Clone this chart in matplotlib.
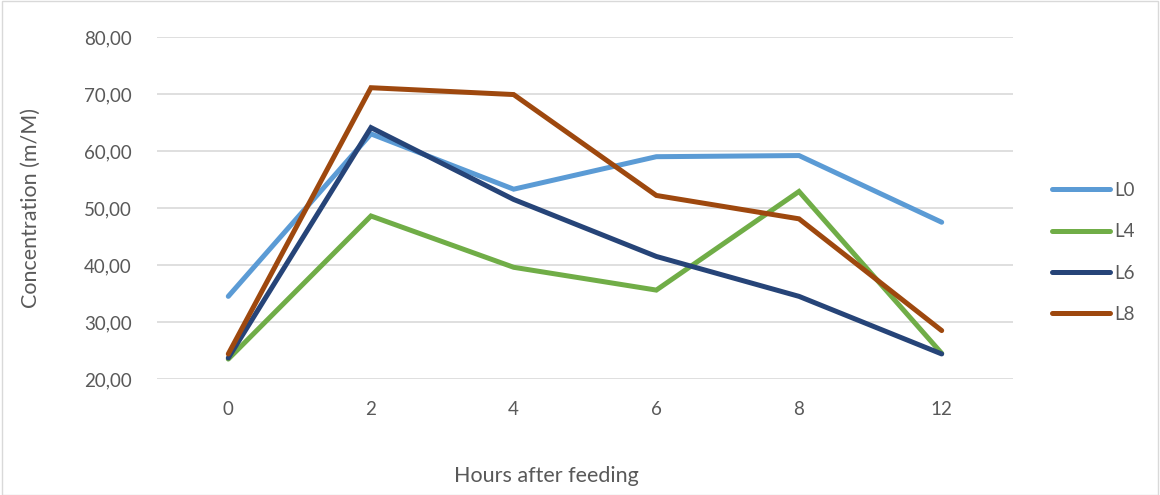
import matplotlib
matplotlib.use("Agg")
import matplotlib.pyplot as plt
from matplotlib.patches import Rectangle
from matplotlib.ticker import FuncFormatter

hours = ["0", "2", "4", "6", "8", "12"]
L0 = [34.5, 63.0, 53.3, 59.0, 59.2, 47.5]
L4 = [23.5, 48.6, 39.6, 35.6, 52.9, 24.5]
L6 = [23.7, 64.1, 51.5, 41.5, 34.5, 24.4]
L8 = [24.4, 71.1, 69.9, 52.2, 48.1, 28.5]
series_names = ["L0", "L4", "L6", "L8"]
colors = ["#5B9BD5", "#70AD47", "#264478", "#9E480E"]

plt.rcParams['font.family'] = ['Lato', 'DejaVu Sans']
txt = "#595959"

fig = plt.figure(figsize=(11.6, 4.95), dpi=100)
ax = fig.add_axes([0.1353, 0.2343, 0.7380, 0.6910])

x = list(range(len(hours)))
for name, vals, c in zip(series_names, [L0, L4, L6, L8], colors):
    ax.plot(x, vals, color=c, lw=3.6, solid_capstyle='round',
            solid_joinstyle='miter', label=name)

ax.set_xlim(-0.5, len(hours) - 0.5)
ax.set_ylim(20, 80)
ax.set_yticks([20, 30, 40, 50, 60, 70, 80])
ax.yaxis.set_major_formatter(FuncFormatter(lambda v, p: f"{v:.2f}".replace('.', ',')))
ax.set_xticks(x)
ax.set_xticklabels(hours)
ax.grid(axis='y', color='#D9D9D9', lw=1.2)
ax.set_axisbelow(True)
for s in ax.spines.values():
    s.set_visible(False)
ax.tick_params(length=0, labelsize=13.5, colors=txt)
ax.tick_params(axis='y', pad=18)
ax.tick_params(axis='x', pad=16)

ax.set_ylabel("Concentration (m/M)", fontsize=15.5, color=txt)
ax.yaxis.set_label_coords(-0.136, 0.5)
ax.set_xlabel("Hours after feeding", fontsize=15.5, color=txt)
ax.xaxis.set_label_coords(0.455, -0.255)

leg = ax.legend(loc='center left', bbox_to_anchor=(1.0456, 0.37), frameon=False,
                fontsize=13.5, labelcolor=txt, handlelength=3.1, handletextpad=0.2,
                labelspacing=1.3, borderpad=0, borderaxespad=0)

fig.patches.append(Rectangle((0.002, 0.0), 0.996, 0.998, transform=fig.transFigure,
                             fill=False, edgecolor='#D9D9D9', lw=1.0))

fig.savefig("out.png", dpi=100)
